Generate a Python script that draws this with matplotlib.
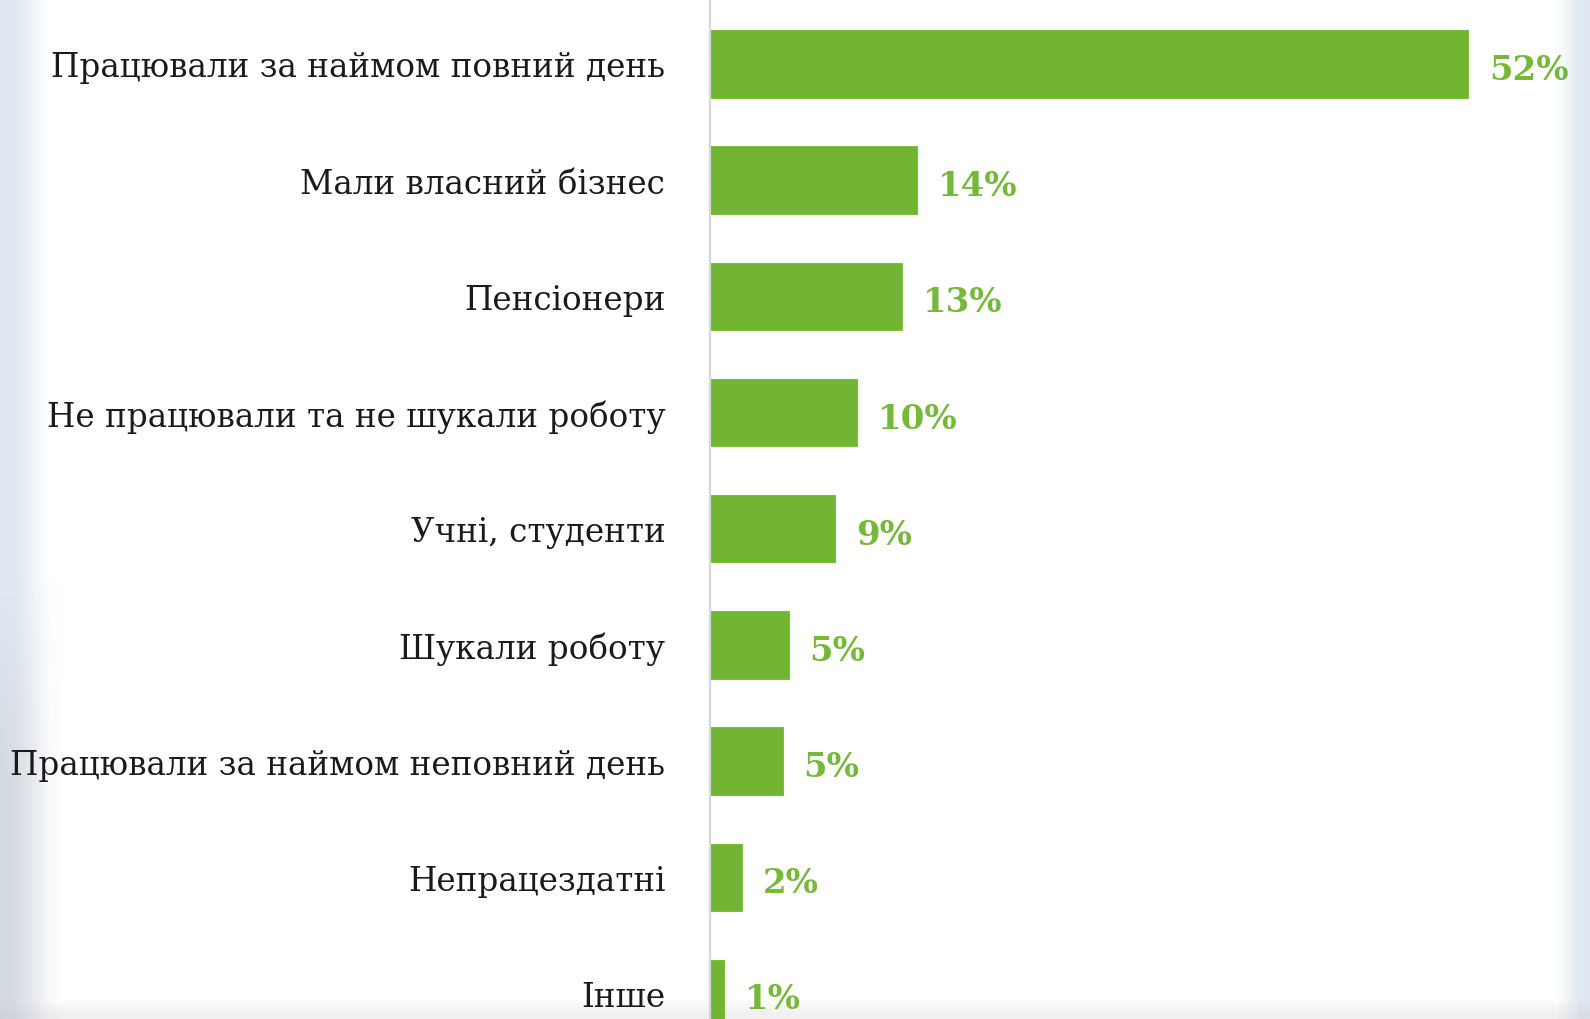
import numpy as np
import matplotlib
matplotlib.use("Agg")
import matplotlib.pyplot as plt

categories = [
    "Працювали за наймом повний день",
    "Мали власний бізнес",
    "Пенсіонери",
    "Не працювали та не шукали роботу",
    "Учні, студенти",
    "Шукали роботу",
    "Працювали за наймом неповний день",
    "Непрацездатні",
    "Інше",
]
values = [52.0, 14.2, 13.2, 10.1, 8.6, 5.4, 5.0, 2.2, 1.0]
value_labels = ["52%", "14%", "13%", "10%", "9%", "5%", "5%", "2%", "1%"]

green = "#72b532"
label_green = "#76b83a"
W, H = 1590, 1020

fig = plt.figure(figsize=(W / 100, H / 100), dpi=100)
fig.patch.set_facecolor("white")

# background: screenshot edges (bluish strips left/right, grey shading at bottom)
bg = fig.add_axes([0, 0, 1, 1], zorder=0)
img = np.ones((H, W, 3))
edge = np.array([0.88, 0.91, 0.95])
xs = np.arange(W)
left_t = np.clip(1 - (xs - 15) / 35.0, 0, 1)
right_t = np.clip((xs - 1555) / 25.0, 0, 1)
t = np.maximum(left_t, right_t)[None, :, None]
img = img * (1 - t) + edge * t
ys = np.arange(H)
grey_y = np.clip((ys - 580) / 200.0, 0, 1)[:, None]
grey_x = np.clip(1 - xs / 65.0, 0, 1)[None, :]
g = (grey_y * grey_x * 0.3)[:, :, None]
img = img * (1 - g) + 0.72 * g
bottom_t = np.clip((ys - 1000) / 14.0, 0, 1)[:, None, None] * 0.22
img = img * (1 - bottom_t) + 0.75 * bottom_t
bg.imshow(img, aspect="auto", extent=[0, 1, 0, 1])
bg.axis("off")

ax = fig.add_axes([0.4464, 0, 0.5336, 1], zorder=2)
ax.patch.set_alpha(0)
pos = np.arange(len(categories))
ax.barh(pos, values, height=0.58, color=green, edgecolor="#7cbf40", linewidth=0.8)
ax.set_xlim(0, 58.16)
ax.set_ylim(8.22, -0.5585)

ax.set_yticks(pos, categories, fontsize=23.5, family="DejaVu Serif", color="#1a1a1a")
ax.tick_params(axis="y", length=0, pad=32)
for lab in ax.get_yticklabels():
    lab.set_y(lab.get_position()[1])
ax.set_xticks([])
for s in ["top", "right", "bottom"]:
    ax.spines[s].set_visible(False)
ax.spines["left"].set_color("#d6d6d6")
ax.spines["left"].set_linewidth(1.6)

for i, (v, lab) in enumerate(zip(values, value_labels)):
    ax.annotate(lab, (v, i), xytext=(15, -4), textcoords="offset points",
                va="center", ha="left", fontsize=24.5, fontweight="bold",
                family="DejaVu Serif", color=label_green)

fig.savefig("out.png", dpi=100)
